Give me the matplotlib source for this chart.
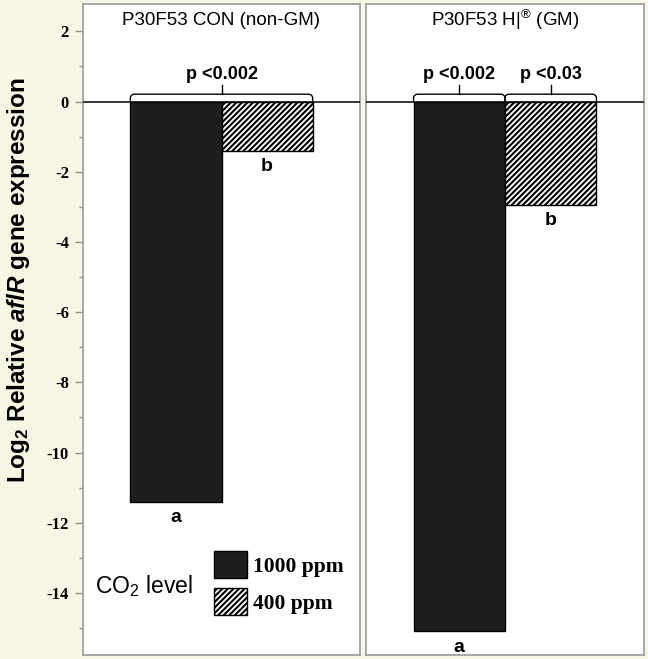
import numpy as np
import matplotlib
matplotlib.use("Agg")
import matplotlib.pyplot as plt
from matplotlib.patches import Patch

plt.rcParams['font.family'] = ['Liberation Sans', 'DejaVu Sans']
plt.rcParams['mathtext.fontset'] = 'custom'
plt.rcParams['mathtext.rm'] = 'Liberation Sans:bold'
plt.rcParams['mathtext.it'] = 'Liberation Sans:italic:bold'
plt.rcParams['mathtext.bf'] = 'Liberation Sans:bold'
plt.rcParams['mathtext.sf'] = 'Liberation Sans'
plt.rcParams['hatch.linewidth'] = 1.5

# ---- data ----
panel_titles = ["P30F53 CON (non-GM)", r"P30F53 H|$^{\mathsf{®}}$ (GM)"]
co2_levels = ["1000 ppm", "400 ppm"]
values_con = [-11.4, -1.4]
values_gm = [-15.1, -2.95]
letters_con = ["a", "b"]
letters_gm = ["a", "b"]
# brackets: (first bar index, last bar index, label)
brackets_con = [(0, 1, "p <0.002")]
brackets_gm = [(0, 0, "p <0.002"), (1, 1, "p <0.03")]
yticks_major = [2, 0, -2, -4, -6, -8, -10, -12, -14]

bar_colors = ['#1e1e1e', 'white']
bar_hatches = [None, '//////']

fig = plt.figure(figsize=(6.48, 6.59), dpi=100)
fig.patch.set_facecolor('#F7F5E3')
W, H = 648, 659
ax_bottom = 4 / H
ax_height = 651 / H
axL = fig.add_axes([83 / W, ax_bottom, 277 / W, ax_height])
axR = fig.add_axes([366 / W, ax_bottom, 278 / W, ax_height])

ylim = (-15.77, 2.78)
xlim = (-1.02, 2.02)


def bracket(ax, x0, x1, label):
    h = 0.21
    t = 0.26
    rx, ry = 0.045, 0.11
    th = np.linspace(0, np.pi / 2, 12)
    lx = x0 + rx - rx * np.cos(th)
    ly = (h - ry) + ry * np.sin(th)
    rxs = x1 - rx + rx * np.cos(th[::-1])
    rys = (h - ry) + ry * np.sin(th[::-1])
    xs = np.concatenate([[x0], lx, rxs, [x1]])
    ys = np.concatenate([[0], ly, rys, [0]])
    ax.plot(xs, ys, color='black', lw=1.0, solid_capstyle='butt', zorder=4)
    xc = (x0 + x1) / 2
    ax.plot([xc, xc], [h, h + t], color='black', lw=1.0, zorder=4)
    ax.text(xc, 0.76, label, ha='center', va='center', fontsize=13,
            fontweight='bold', zorder=5)


def draw_panel(ax, values, letters, brackets, title, show_y):
    x = np.arange(len(values))
    for i, v in enumerate(values):
        ax.bar(x[i], v, width=1.0, color=bar_colors[i], edgecolor='black',
               hatch=bar_hatches[i], linewidth=1.0, zorder=3)
        ax.text(x[i], v - 0.2, letters[i], ha='center', va='top',
                fontsize=14, fontweight='bold')
    ax.axhline(0, color='black', lw=1.1, zorder=4)
    for (i0, i1, lab) in brackets:
        bracket(ax, x[i0] - 0.5, x[i1] + 0.5, lab)
    ax.set_xlim(*xlim)
    ax.set_ylim(*ylim)
    ax.set_xticks([])
    ax.text(0.5, 0.975, title, transform=ax.transAxes, ha='center',
            va='center', fontsize=13.5)
    for s in ax.spines.values():
        s.set_color('#a0a0a0')
        s.set_linewidth(1.3)
    if show_y:
        ax.set_yticks(yticks_major)
        ax.set_yticklabels([("-%d" % -t) if t < 0 else "%d" % t
                            for t in yticks_major],
                           family='Liberation Serif', fontweight='bold',
                           fontsize=12)
        ax.set_yticks(np.arange(-15, 3, 2), minor=True)
        ax.tick_params(axis='y', which='major', length=6, width=1,
                       color='#909090', pad=4)
        ax.tick_params(axis='y', which='minor', length=3, width=1,
                       color='#909090')
    else:
        ax.set_yticks([])


draw_panel(axL, values_con, letters_con, brackets_con, panel_titles[0], True)
draw_panel(axR, values_gm, letters_gm, brackets_gm, panel_titles[1], False)

# legend
handles = [Patch(facecolor=bar_colors[i], edgecolor='black',
                 hatch=bar_hatches[i], linewidth=1.0)
           for i in range(len(co2_levels))]
leg = axL.legend(handles, co2_levels, loc='upper left',
                 bbox_to_anchor=(0.42, -12.82),
                 bbox_transform=axL.transData, frameon=False,
                 borderpad=0, borderaxespad=0, handlelength=1.5,
                 handleheight=1.55, handletextpad=0.3, labelspacing=0.45,
                 prop={'family': 'Liberation Serif', 'weight': 'bold',
                       'size': 15.5})
axL.text(-0.89, -13.8, r"CO$_{\mathsf{2}}$ level", ha='left', va='center',
         fontsize=16.5)

fig.text(19 / W, 1 - 280 / H,
         r"Log$_{2}$ Relative $\it{aflR}$ gene expression",
         rotation=90, ha='center', va='center', fontsize=17.5,
         fontweight='bold')

fig.savefig('out.png', dpi=100, facecolor=fig.get_facecolor())
